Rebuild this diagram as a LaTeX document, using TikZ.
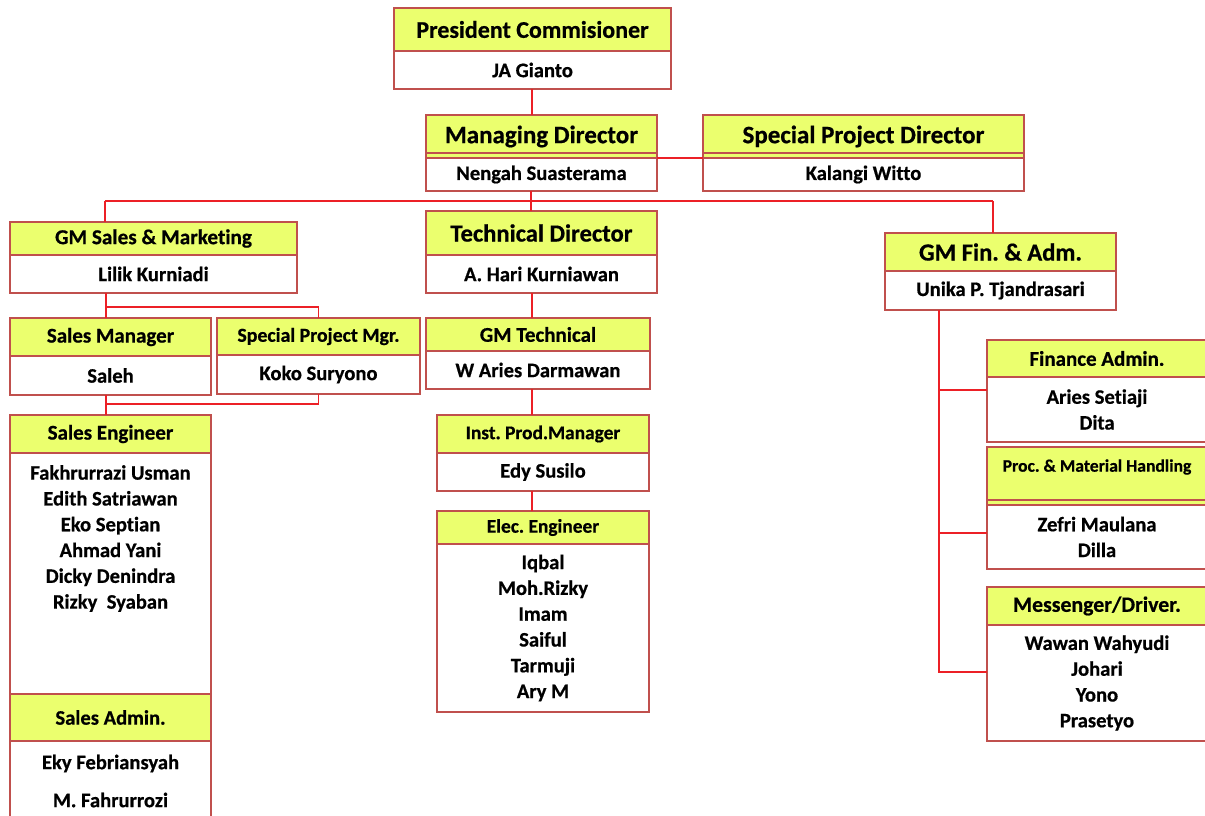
\documentclass[tikz,border=0pt]{standalone}
\usepackage{fontspec}
\setmainfont{Carlito}[Ligatures=NoCommon, BoldFeatures={FakeBold=0.6}]
\usepackage{xcolor}
\usetikzlibrary{positioning}
\frenchspacing

\definecolor{boxred}{RGB}{192,80,77}
\definecolor{headfill}{RGB}{235,255,110}
\definecolor{linkred}{RGB}{236,32,38}

\tikzset{
  head/.style={draw=boxred, fill=headfill, line width=1.5pt, inner sep=0pt, outer sep=0pt,
    anchor=north west, font=\bfseries\fontsize{21}{25}\selectfont},
  body/.style={draw=boxred, fill=white, line width=1.5pt, inner sep=0pt, outer sep=0pt,
    align=center, font=\bfseries\fontsize{20.6}{25.8}\selectfont},
  names/.style={inner sep=0pt, align=center, font=\bfseries\fontsize{20.6}{25.8}\selectfont},
  link/.style={draw=linkred, line width=1.5pt},
  bus/.style={draw=linkred, line width=2.6pt}
}

\begin{document}
\begin{tikzpicture}[x=1pt, y=-1pt]
  \clip (0,0) rectangle (1205,816);
  \fill[white] (0,0) rectangle (1205,816);

  % Board
  \node[head, minimum width=277pt, minimum height=43pt, font=\bfseries\fontsize{24}{28}\selectfont] (pc-h) at (394,8) {President Commisioner};
  \node[body, minimum width=277pt, minimum height=38pt, below=0pt of pc-h] (pc-n) {JA Gianto};

  \node[head, minimum width=231pt, minimum height=43pt, font=\bfseries\fontsize{25}{29}\selectfont] (md-h) at (426,115) {Managing Director};
  \node[body, minimum width=231pt, minimum height=33pt, below=0pt of md-h] (md-n) {Nengah Suasterama};

  \node[head, minimum width=321pt, minimum height=43pt, font=\bfseries\fontsize{25}{29}\selectfont] (spd-h) at (703,115) {Special Project Director};
  \node[body, minimum width=321pt, minimum height=33pt, below=0pt of spd-h] (spd-n) {Kalangi Witto};

  % Sales
  \node[head, minimum width=287pt, minimum height=33pt, font=\bfseries\fontsize{21.2}{25}\selectfont] (gms-h) at (10,222) {GM Sales \& Marketing};
  \node[body, minimum width=287pt, minimum height=38pt, below=0pt of gms-h] (gms-n) {Lilik Kurniadi};

  \node[head, minimum width=201pt, minimum height=38pt] (sm-h) at (10,318) {Sales Manager};
  \node[body, minimum width=201pt, minimum height=39pt, below=0pt of sm-h] (sm-n) {Saleh};

  \node[head, minimum width=203pt, minimum height=37pt, font=\bfseries\fontsize{19.8}{23}\selectfont] (spm-h) at (217,318) {Special Project Mgr.};
  \node[body, minimum width=203pt, minimum height=39pt, below=0pt of spm-h] (spm-n) {Koko Suryono};

  \node[head, minimum width=201pt, minimum height=38pt] (se-h) at (10,415) {Sales Engineer};
  \node[body, minimum width=201pt, minimum height=241pt, below=0pt of se-h] (se-n) {};
  \node[names, below=12pt of se-n.north] (se-list) {Fakhrurrazi Usman\\Edith Satriawan\\Eko Septian\\Ahmad Yani\\Dicky Denindra\\Rizky~ Syaban};

  \node[head, minimum width=201pt, minimum height=47pt, font=\bfseries\fontsize{20.6}{24}\selectfont] (sa-h) at (10,694) {Sales Admin.};
  \node[body, minimum width=201pt, minimum height=80pt, below=0pt of sa-h] (sa-n) {Eky Febriansyah\\[12.2pt]M. Fahrurrozi};

  % Technical
  \node[head, minimum width=231pt, minimum height=44pt, font=\bfseries\fontsize{24.6}{28}\selectfont] (td-h) at (426,211) {Technical Director};
  \node[body, minimum width=231pt, minimum height=38pt, below=0pt of td-h] (td-n) {A. Hari Kurniawan};

  \node[head, minimum width=224pt, minimum height=33pt] (gmt-h) at (426,318) {GM Technical};
  \node[body, minimum width=224pt, minimum height=38pt, below=0pt of gmt-h] (gmt-n) {W Aries Darmawan};

  \node[head, minimum width=212pt, minimum height=38pt, font=\bfseries\fontsize{19.4}{23}\selectfont] (ipm-h) at (437,415) {Inst. Prod.Manager};
  \node[body, minimum width=212pt, minimum height=38pt, below=0pt of ipm-h] (ipm-n) {Edy Susilo};

  \node[head, minimum width=212pt, minimum height=33pt, font=\bfseries\fontsize{19.4}{23}\selectfont] (ee-h) at (437,511) {Elec. Engineer};
  \node[body, minimum width=212pt, minimum height=168pt, below=0pt of ee-h] (ee-n) {Iqbal\\Moh.Rizky\\Imam\\Saiful\\Tarmuji\\Ary M};

  % Finance
  \node[head, minimum width=231pt, minimum height=38pt, font=\bfseries\fontsize{24.6}{28}\selectfont] (gmf-h) at (885,233) {GM Fin. \& Adm.};
  \node[body, minimum width=231pt, minimum height=39pt, below=0pt of gmf-h] (gmf-n) {Unika P. Tjandrasari};

  \node[head, minimum width=220pt, minimum height=37pt] (fa-h) at (987,340) {Finance Admin.};
  \node[body, minimum width=220pt, minimum height=65pt, below=0pt of fa-h] (fa-n) {Aries Setiaji\\Dita};

  \node[head, minimum width=220pt, minimum height=58pt, text depth=21pt, font=\bfseries\fontsize{17.6}{21}\selectfont] (proc-h) at (987,447) {Proc. \& Material Handling};
  \node[body, minimum width=220pt, minimum height=64pt, below=0pt of proc-h] (proc-n) {Zefri Maulana\\Dilla};

  \node[head, minimum width=220pt, minimum height=38pt, font=\bfseries\fontsize{21.8}{25}\selectfont] (msg-h) at (987,587) {Messenger/Driver.};
  \node[body, minimum width=220pt, minimum height=116pt, below=0pt of msg-h] (msg-n) {Wawan Wahyudi\\Johari\\Yono\\Prasetyo};

  \foreach \n in {md-h,spd-h,proc-h}
    \draw[draw=boxred, line width=1.5pt] ([yshift=5pt]\n.south west) -- ([yshift=5pt]\n.south east);

  % Links
  \coordinate (top) at (532,100);
  \coordinate (bus) at (531,201);
  \coordinate (busL) at (105,201);
  \coordinate (busR) at (993,201);
  \coordinate (sv) at (106,307);
  \coordinate (sv2) at (106,404);
  \coordinate (tv) at (532,300);
  \coordinate (f1) at (939,390);
  \coordinate (f2) at (939,533);
  \coordinate (f3) at (939,672);

  \draw[link] (top |- pc-n.south) -- (top |- md-h.north);
  \draw[link] (md-n.north east) -- (spd-n.north west);
  \draw[link] (bus |- md-n.south) -- (bus) -- (bus |- td-h.north);
  \draw[bus] (busL) -- (busR);
  \draw[link] (busL) -- (busL |- gms-h.north);
  \draw[link] (busR) -- (busR |- gmf-h.north);

  \draw[link] (sv |- gms-n.south) -- (sv |- sm-h.north);
  \draw[link] (sv) -| (spm-h.north);
  \draw[link] (sv |- sm-n.south) -- (sv |- se-h.north);
  \draw[link] (sv2) -| (spm-n.south);

  \draw[link] (tv |- td-n.south) -- (tv |- gmt-h.north);
  \draw[link] (tv |- gmt-n.south) -- (tv |- ipm-h.north);
  \draw[link] (tv |- ipm-n.south) -- (tv |- ee-h.north);

  \draw[link] (f1 |- gmf-n.south) -- (f3) -- (f3 -| msg-n.west);
  \draw[link] (f1) -- (f1 -| fa-n.west);
  \draw[link] (f2) -- (f2 -| proc-n.west);

\end{tikzpicture}
\end{document}
